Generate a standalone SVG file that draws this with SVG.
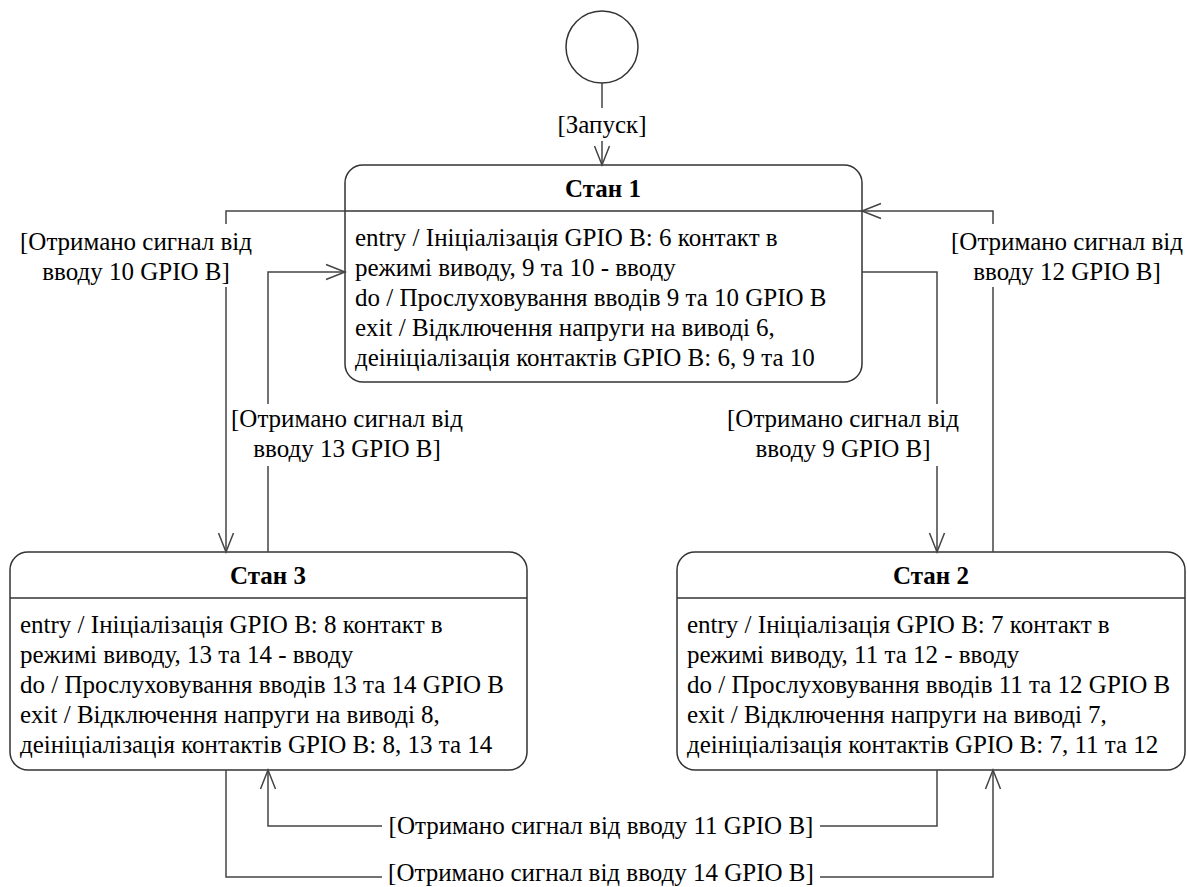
<svg xmlns="http://www.w3.org/2000/svg" width="1187" height="887" viewBox="0 0 1187 887">
<style>
  .box { fill: #fff; stroke: #333; stroke-width: 1.5; }
  .sep { stroke: #333; stroke-width: 1.5; fill: none; }
  .title { font-family: "Liberation Serif", "Times New Roman", serif; font-size: 25px; font-weight: bold; fill: #000; text-anchor: middle; }
  .body { font-family: "Liberation Serif", "Times New Roman", serif; font-size: 25px; fill: #000; }
  .lbl { font-family: "Liberation Serif", "Times New Roman", serif; font-size: 25px; fill: #000; text-anchor: middle; }
  .conn { fill: none; stroke: #444; stroke-width: 1.5; }
</style>
<defs>
  <marker id="arr" markerUnits="userSpaceOnUse" markerWidth="24" markerHeight="20" viewBox="0 0 24 20" refX="21" refY="10" orient="auto">
    <path d="M2,2.5 L21,10 L2,17.5" fill="none" stroke="#444" stroke-width="1.5"/>
  </marker>
</defs>

<g id="start">
  <circle cx="602" cy="47" r="36" fill="#fff" stroke="#333" stroke-width="1.5"/>
</g>

<g id="state1">
  <rect class="box" x="345" y="165" width="517" height="217" rx="18" ry="18"/>
  <line class="sep" x1="345" y1="211" x2="862" y2="211"/>
  <text class="title" x="603" y="197">Стан 1</text>
  <text class="body" x="355" y="246">entry / Ініціалізація GPIO B: 6 контакт в</text>
  <text class="body" x="355" y="276">режимі виводу, 9 та 10 - вводу</text>
  <text class="body" x="355" y="306">do / Прослуховування вводів 9 та 10 GPIO B</text>
  <text class="body" x="355" y="336">exit / Відключення напруги на виводі 6,</text>
  <text class="body" x="355" y="366">деініціалізація контактів GPIO B: 6, 9 та 10</text>
</g>

<g id="state3">
  <rect class="box" x="10" y="552" width="517" height="218" rx="18" ry="18"/>
  <line class="sep" x1="10" y1="598" x2="527" y2="598"/>
  <text class="title" x="268" y="584">Стан 3</text>
  <text class="body" x="20" y="633">entry / Ініціалізація GPIO B: 8 контакт в</text>
  <text class="body" x="20" y="663">режимі виводу, 13 та 14 - вводу</text>
  <text class="body" x="20" y="693">do / Прослуховування вводів 13 та 14 GPIO B</text>
  <text class="body" x="20" y="723">exit / Відключення напруги на виводі 8,</text>
  <text class="body" x="20" y="753">деініціалізація контактів GPIO B: 8, 13 та 14</text>
</g>

<g id="state2">
  <rect class="box" x="677" y="552" width="508" height="218" rx="18" ry="18"/>
  <line class="sep" x1="677" y1="598" x2="1185" y2="598"/>
  <text class="title" x="931" y="584">Стан 2</text>
  <text class="body" x="687" y="633">entry / Ініціалізація GPIO B: 7 контакт в</text>
  <text class="body" x="687" y="663">режимі виводу, 11 та 12 - вводу</text>
  <text class="body" x="687" y="693">do / Прослуховування вводів 11 та 12 GPIO B</text>
  <text class="body" x="687" y="723">exit / Відключення напруги на виводі 7,</text>
  <text class="body" x="687" y="753">деініціалізація контактів GPIO B: 7, 11 та 12</text>
</g>

<g id="connectors">
  <!-- start -> state1 -->
  <path class="conn" d="M602,83 V108 M602,141 V165" marker-end="url(#arr)"/>
  <text class="lbl" x="602" y="133">[Запуск]</text>

  <!-- state1 -> state3 (10) -->
  <path class="conn" d="M345,211 H226 V224 M226,287 V552" marker-end="url(#arr)"/>
  <text class="lbl" x="136" y="250">[Отримано сигнал від</text>
  <text class="lbl" x="136" y="280">вводу 10 GPIO B]</text>

  <!-- state3 -> state1 (13) -->
  <path class="conn" d="M268,552 V466 M268,404 V272 H345" marker-end="url(#arr)"/>
  <text class="lbl" x="347" y="427">[Отримано сигнал від</text>
  <text class="lbl" x="347" y="457">вводу 13 GPIO B]</text>

  <!-- state1 -> state2 (9) -->
  <path class="conn" d="M862,272 H937 V404 M937,466 V552" marker-end="url(#arr)"/>
  <text class="lbl" x="843" y="427">[Отримано сигнал від</text>
  <text class="lbl" x="843" y="457">вводу 9 GPIO B]</text>

  <!-- state2 -> state1 (12) -->
  <path class="conn" d="M993,552 V287 M993,224 V211 H862" marker-end="url(#arr)"/>
  <text class="lbl" x="1067" y="250">[Отримано сигнал від</text>
  <text class="lbl" x="1067" y="280">вводу 12 GPIO B]</text>

  <!-- state2 -> state3 (11) -->
  <path class="conn" d="M937,770 V826 H820 M382,826 H268 V770" marker-end="url(#arr)"/>
  <text class="lbl" x="601" y="834">[Отримано сигнал від вводу 11 GPIO B]</text>

  <!-- state3 -> state2 (14) -->
  <path class="conn" d="M226,770 V877 H382 M820,877 H993 V770" marker-end="url(#arr)"/>
  <text class="lbl" x="601" y="881">[Отримано сигнал від вводу 14 GPIO B]</text>
</g>
</svg>
